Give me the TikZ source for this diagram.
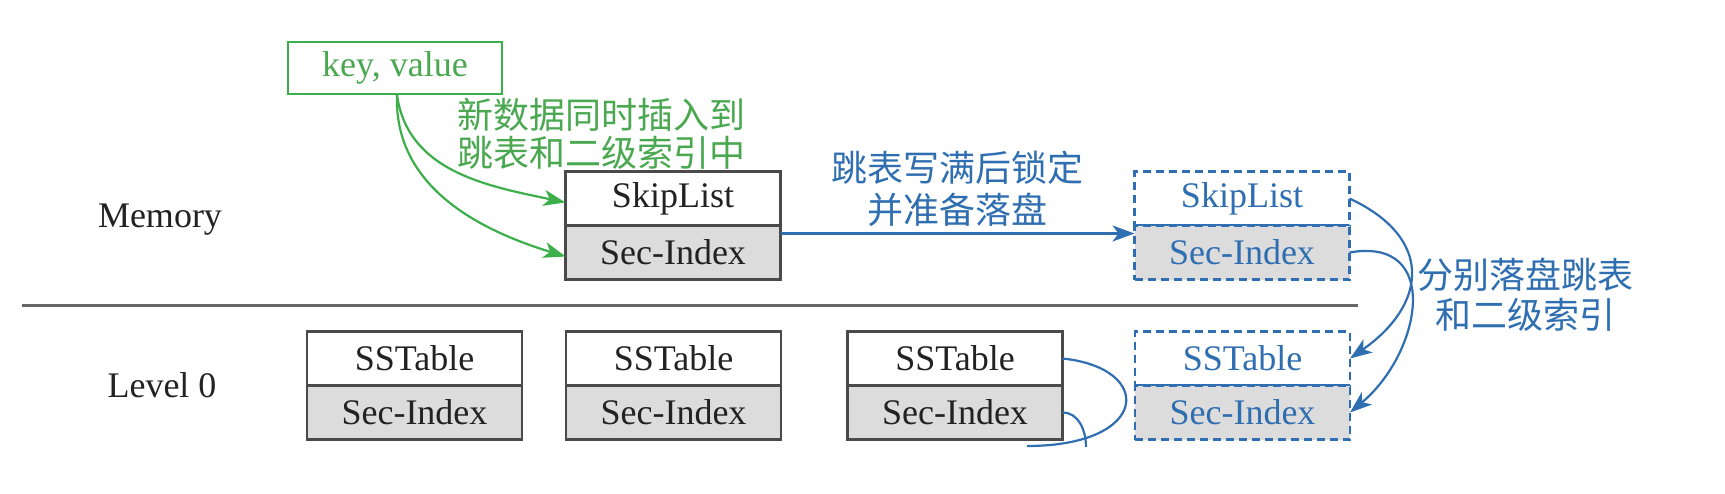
\documentclass[tikz,border=0pt]{standalone}
\usepackage{fontspec}
\setmainfont{Liberation Serif}
\newfontfamily\cjk{Noto Sans CJK SC}
\usetikzlibrary{arrows.meta}
\definecolor{bordergray}{HTML}{4A4A4A}
\definecolor{cellgray}{HTML}{DCDCDC}
\definecolor{txtgray}{HTML}{222222}
\definecolor{sepgray}{HTML}{666666}
\definecolor{mygreen}{HTML}{3CAF4A}
\definecolor{mygreentxt}{HTML}{4AA851}
\definecolor{myblue}{HTML}{2F6EB0}
\begin{document}
\begin{tikzpicture}[x=0.5pt,y=-0.5pt,
  cell/.style={draw=bordergray, line width=1.2pt, minimum width=107.5pt, minimum height=27pt,
    inner sep=0pt, outer sep=0pt, font=\fontsize{18}{21}\selectfont, text=txtgray},
  topcell/.style={cell, fill=white},
  botcell/.style={cell, fill=cellgray},
  dtopcell/.style={topcell, draw=myblue, dash pattern=on 4pt off 2.5pt, text=myblue},
  dbotcell/.style={botcell, draw=myblue, dash pattern=on 4pt off 2.5pt, text=myblue},
  lvl/.style={font=\fontsize{18}{21}\selectfont, text=txtgray},
  kvbox/.style={draw=mygreen, line width=1pt, minimum width=107pt, minimum height=26pt,
    inner sep=0pt, font=\fontsize{18}{21}\selectfont, text=mygreentxt},
  garrow/.style={draw=mygreen, line width=1.1pt, -{Stealth[length=11pt,width=8pt,inset=3pt]}},
  barrow/.style={draw=myblue, line width=1.1pt, -{Stealth[length=11pt,width=8pt,inset=3pt]}},
  bline/.style={draw=myblue, line width=1.1pt},
  cnote/.style={align=center, inner sep=0pt}
]
\useasboundingbox (0,0) rectangle (1725,493);

% labels
\node[lvl] (memlbl) at (160,220) {Memory};
\node[lvl] (lvllbl) at (162,385) {Level 0};

% separator
\coordinate (sepL) at (22,305);
\coordinate (sepR) at (1358,305);
\draw[sepgray, line width=1.5pt] (sepL) -- (sepR);

% key,value
\node[kvbox] (kv) at (395,68) {key, value};

% memory boxes
\node[topcell] (msk) at (673,198.5) {SkipList};
\node[botcell, anchor=north] (msec) at (msk.south) {Sec-Index};
\node[dtopcell] (dsk) at (1242,198.5) {SkipList};
\node[dbotcell, anchor=north] (dsec) at (dsk.south) {Sec-Index};

% level 0 boxes
\node[topcell] (s1) at (414.5,358.5) {SSTable};
\node[botcell, anchor=north] (i1) at (s1.south) {Sec-Index};
\node[topcell] (s2) at (673.5,358.5) {SSTable};
\node[botcell, anchor=north] (i2) at (s2.south) {Sec-Index};
\node[topcell] (s3) at (955,358.5) {SSTable};
\node[botcell, anchor=north] (i3) at (s3.south) {Sec-Index};
\node[dtopcell] (ds) at (1242.5,358.5) {SSTable};
\node[dbotcell, anchor=north] (di) at (ds.south) {Sec-Index};

% green notes and arrows
\node[cnote, text=mygreentxt, font=\cjk\fontsize{18}{19}\selectfont] (gnote) at (601,134)
  {新数据同时插入到\\跳表和二级索引中};
\draw[garrow] ([xshift=1pt]kv.south) to[out=-82,in=168] ([yshift=-2pt]msk.west);
\draw[garrow] ([xshift=1pt]kv.south) to[out=-92,in=163] ([yshift=-2pt]msec.west);

% blue note and horizontal arrow
\node[cnote, text=myblue, font=\cjk\fontsize{18}{21}\selectfont] (bnote) at (957,189)
  {跳表写满后锁定\\并准备落盘};
\draw[barrow] ([yshift=-4pt]msec.north east) -- ([yshift=-4pt]dsec.north west);

% right flush arrows
\node[cnote, text=myblue, font=\cjk\fontsize{18}{20}\selectfont] (rnote) at (1525,295)
  {分别落盘跳表\\和二级索引};
\draw[barrow] (dsk.east) to[out=-25,in=35,looseness=1.5] (ds.east);
\draw[barrow] (dsec.east) to[out=10,in=40,looseness=1.5] (di.east);

% curves leaving box 3 (cut off at the bottom)
\coordinate (c3end) at (1027,446);
\coordinate (c4end) at (1086,447);
\draw[bline] (s3.east) .. controls (1155,368) and (1150,446) .. (c3end);
\draw[bline] (i3.east) to[out=0,in=90] (c4end);
\end{tikzpicture}
\end{document}
